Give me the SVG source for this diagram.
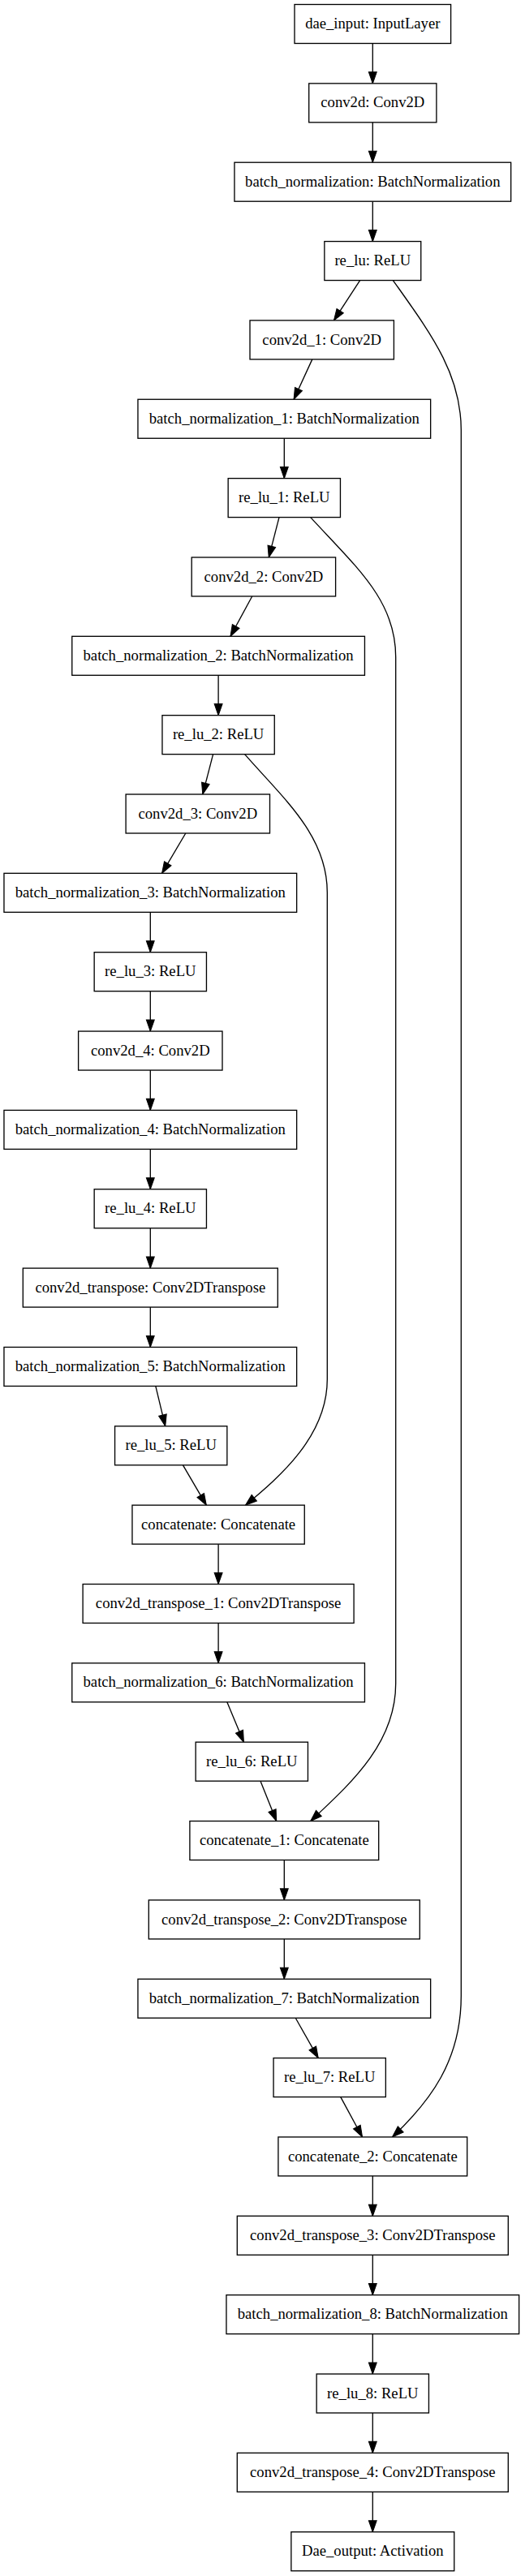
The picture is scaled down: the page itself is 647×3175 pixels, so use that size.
<svg xmlns="http://www.w3.org/2000/svg" width="647" height="3175" viewBox="0 0 647 3175">
<style>
.n rect{fill:#fff;stroke:#000;stroke-width:1.33}
.n text{font-family:"Liberation Serif","Times New Roman",serif;font-size:18.67px;text-anchor:middle;fill:#000}
.e path{fill:none;stroke:#000;stroke-width:1.33;marker-end:url(#ah)}
</style>
<defs>
<marker id="ah" markerUnits="userSpaceOnUse" markerWidth="14" markerHeight="10" viewBox="0 0 13.33 9.33" refX="13.33" refY="4.67" orient="auto" overflow="visible"><path d="M0,0L13.33,4.67L0,9.33z" fill="#000" stroke="#000" stroke-width="1"/></marker>
</defs>
<rect width="647" height="3175" fill="#fff"/>
<g id="connectors" class="e">
<path d="M459.3,53.5V102.85"/>
<path d="M459.3,150.85V200.2"/>
<path d="M459.3,248.2V297.55"/>
<path d="M443.6,345.55L411.5,394.9"/>
<path d="M484.4,345.55C530,410 568.3,460 568.3,530L568.3,2460C568.3,2540 530,2590 483.5,2633.95"/>
<path d="M384.8,442.9L362.1,492.25"/>
<path d="M350.3,540.25V589.6"/>
<path d="M344,637.6L331.3,686.95"/>
<path d="M382.7,637.6C440,700 487.7,740 487.7,810L487.7,2075C487.7,2150 430,2200 382.7,2244.55"/>
<path d="M310.7,734.95L284,784.3"/>
<path d="M269.1,832.3V881.65"/>
<path d="M262.6,929.65L249.8,979"/>
<path d="M301.6,929.65C350,985 403.3,1030 403.3,1100L403.3,1700C403.3,1770 345,1820 302.5,1855.15"/>
<path d="M228.8,1027L199.6,1076.35"/>
<path d="M185.3,1124.35V1173.7"/>
<path d="M185.3,1221.7V1271.05"/>
<path d="M185.3,1319.05V1368.4"/>
<path d="M185.3,1416.4V1465.75"/>
<path d="M185.3,1513.75V1563.1"/>
<path d="M185.3,1611.1V1660.45"/>
<path d="M191.8,1708.45L203.7,1757.8"/>
<path d="M225.5,1805.8L254.3,1855.15"/>
<path d="M269.1,1903.15V1952.5"/>
<path d="M269.1,2000.5V2049.85"/>
<path d="M279.8,2097.85L300.4,2147.2"/>
<path d="M321,2195.2L340.7,2244.55"/>
<path d="M350.3,2292.55V2341.9"/>
<path d="M350.3,2389.9V2439.25"/>
<path d="M364.2,2487.25L392.2,2536.6"/>
<path d="M419.8,2584.6L446.5,2633.95"/>
<path d="M459.3,2681.95V2731.3"/>
<path d="M459.3,2779.3V2828.65"/>
<path d="M459.3,2876.65V2926"/>
<path d="M459.3,2974V3023.35"/>
<path d="M459.3,3071.35V3120.7"/>
</g>
<g id="dae_input" class="n"><rect x="363" y="5.5" width="192.6" height="48"/><text x="459.3" y="35.1">dae_input: InputLayer</text></g>
<g id="conv2d" class="n"><rect x="380.7" y="102.85" width="157.2" height="48"/><text x="459.3" y="132.45">conv2d: Conv2D</text></g>
<g id="batch_normalization" class="n"><rect x="288.95" y="200.2" width="340.7" height="48"/><text x="459.3" y="229.8">batch_normalization: BatchNormalization</text></g>
<g id="re_lu" class="n"><rect x="399.85" y="297.55" width="118.9" height="48"/><text x="459.3" y="327.15">re_lu: ReLU</text></g>
<g id="conv2d_1" class="n"><rect x="308" y="394.9" width="177.4" height="48"/><text x="396.7" y="424.5">conv2d_1: Conv2D</text></g>
<g id="batch_normalization_1" class="n"><rect x="169.95" y="492.25" width="360.7" height="48"/><text x="350.3" y="521.85">batch_normalization_1: BatchNormalization</text></g>
<g id="re_lu_1" class="n"><rect x="281.15" y="589.6" width="138.3" height="48"/><text x="350.3" y="619.2">re_lu_1: ReLU</text></g>
<g id="conv2d_2" class="n"><rect x="236.2" y="686.95" width="177.4" height="48"/><text x="324.9" y="716.55">conv2d_2: Conv2D</text></g>
<g id="batch_normalization_2" class="n"><rect x="88.75" y="784.3" width="360.7" height="48"/><text x="269.1" y="813.9">batch_normalization_2: BatchNormalization</text></g>
<g id="re_lu_2" class="n"><rect x="199.95" y="881.65" width="138.3" height="48"/><text x="269.1" y="911.25">re_lu_2: ReLU</text></g>
<g id="conv2d_3" class="n"><rect x="155.1" y="979" width="177.4" height="48"/><text x="243.8" y="1008.6">conv2d_3: Conv2D</text></g>
<g id="batch_normalization_3" class="n"><rect x="4.95" y="1076.35" width="360.7" height="48"/><text x="185.3" y="1105.95">batch_normalization_3: BatchNormalization</text></g>
<g id="re_lu_3" class="n"><rect x="116.15" y="1173.7" width="138.3" height="48"/><text x="185.3" y="1203.3">re_lu_3: ReLU</text></g>
<g id="conv2d_4" class="n"><rect x="96.6" y="1271.05" width="177.4" height="48"/><text x="185.3" y="1300.65">conv2d_4: Conv2D</text></g>
<g id="batch_normalization_4" class="n"><rect x="4.95" y="1368.4" width="360.7" height="48"/><text x="185.3" y="1398">batch_normalization_4: BatchNormalization</text></g>
<g id="re_lu_4" class="n"><rect x="116.15" y="1465.75" width="138.3" height="48"/><text x="185.3" y="1495.35">re_lu_4: ReLU</text></g>
<g id="conv2d_transpose" class="n"><rect x="28.3" y="1563.1" width="314" height="48"/><text x="185.3" y="1592.7">conv2d_transpose: Conv2DTranspose</text></g>
<g id="batch_normalization_5" class="n"><rect x="4.95" y="1660.45" width="360.7" height="48"/><text x="185.3" y="1690.05">batch_normalization_5: BatchNormalization</text></g>
<g id="re_lu_5" class="n"><rect x="141.55" y="1757.8" width="138.3" height="48"/><text x="210.7" y="1787.4">re_lu_5: ReLU</text></g>
<g id="concatenate" class="n"><rect x="162.95" y="1855.15" width="212.3" height="48"/><text x="269.1" y="1884.75">concatenate: Concatenate</text></g>
<g id="conv2d_transpose_1" class="n"><rect x="102.1" y="1952.5" width="334" height="48"/><text x="269.1" y="1982.1">conv2d_transpose_1: Conv2DTranspose</text></g>
<g id="batch_normalization_6" class="n"><rect x="88.75" y="2049.85" width="360.7" height="48"/><text x="269.1" y="2079.45">batch_normalization_6: BatchNormalization</text></g>
<g id="re_lu_6" class="n"><rect x="241.15" y="2147.2" width="138.3" height="48"/><text x="310.3" y="2176.8">re_lu_6: ReLU</text></g>
<g id="concatenate_1" class="n"><rect x="233.9" y="2244.55" width="232.8" height="48"/><text x="350.3" y="2274.15">concatenate_1: Concatenate</text></g>
<g id="conv2d_transpose_2" class="n"><rect x="183.3" y="2341.9" width="334" height="48"/><text x="350.3" y="2371.5">conv2d_transpose_2: Conv2DTranspose</text></g>
<g id="batch_normalization_7" class="n"><rect x="169.95" y="2439.25" width="360.7" height="48"/><text x="350.3" y="2468.85">batch_normalization_7: BatchNormalization</text></g>
<g id="re_lu_7" class="n"><rect x="337.05" y="2536.6" width="138.3" height="48"/><text x="406.2" y="2566.2">re_lu_7: ReLU</text></g>
<g id="concatenate_2" class="n"><rect x="342.9" y="2633.95" width="232.8" height="48"/><text x="459.3" y="2663.55">concatenate_2: Concatenate</text></g>
<g id="conv2d_transpose_3" class="n"><rect x="292.3" y="2731.3" width="334" height="48"/><text x="459.3" y="2760.9">conv2d_transpose_3: Conv2DTranspose</text></g>
<g id="batch_normalization_8" class="n"><rect x="278.95" y="2828.65" width="360.7" height="48"/><text x="459.3" y="2858.25">batch_normalization_8: BatchNormalization</text></g>
<g id="re_lu_8" class="n"><rect x="390.15" y="2926" width="138.3" height="48"/><text x="459.3" y="2955.6">re_lu_8: ReLU</text></g>
<g id="conv2d_transpose_4" class="n"><rect x="292.3" y="3023.35" width="334" height="48"/><text x="459.3" y="3052.95">conv2d_transpose_4: Conv2DTranspose</text></g>
<g id="Dae_output" class="n"><rect x="358.85" y="3120.7" width="200.9" height="48"/><text x="459.3" y="3150.3">Dae_output: Activation</text></g>
</svg>
